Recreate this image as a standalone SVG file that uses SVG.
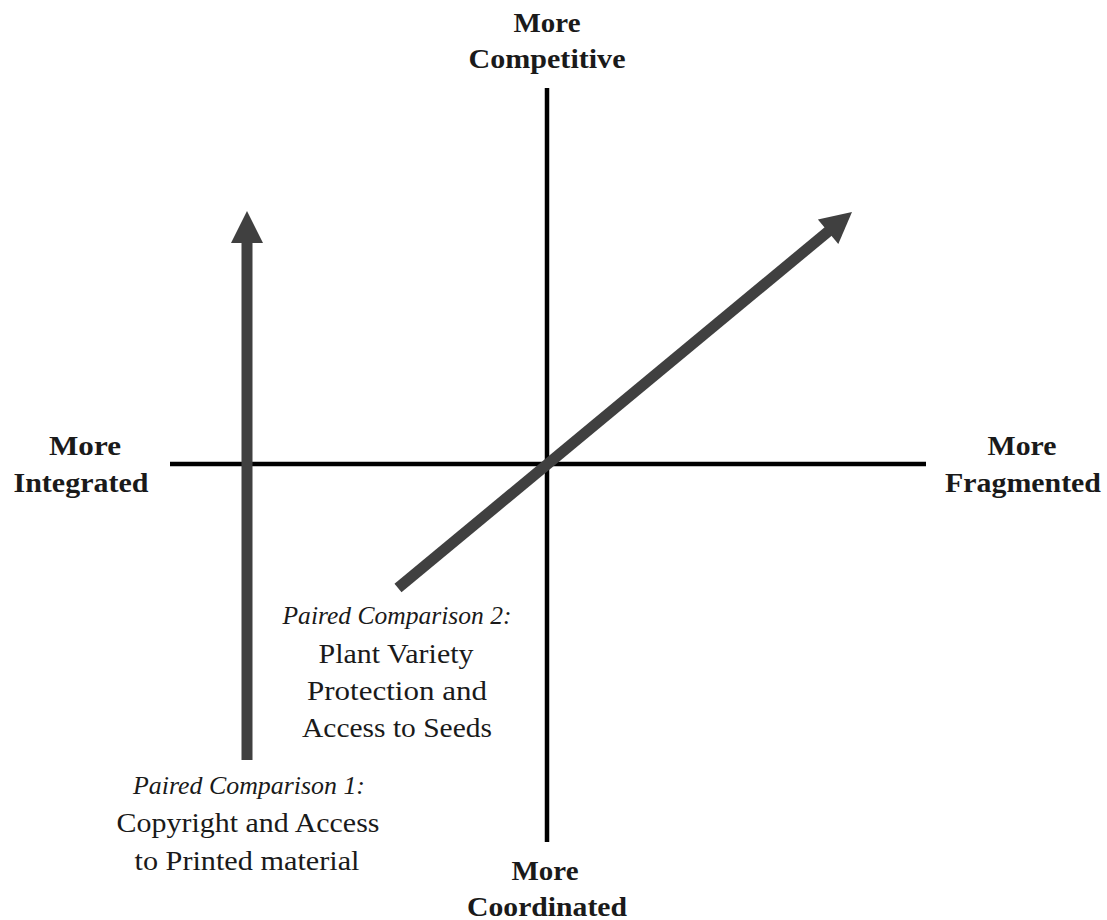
<svg xmlns="http://www.w3.org/2000/svg" width="1107" height="920" viewBox="0 0 1107 920">
<style>
.ax{stroke:#000;stroke-width:4.5;fill:none}
.arr{stroke:#404040;stroke-width:11;fill:none}
.hd{fill:#404040}
.lb{font-family:"Liberation Serif",serif;font-size:27px;font-weight:bold;fill:#1a1a1a;text-anchor:middle}
.it{font-family:"Liberation Serif",serif;font-size:26px;font-style:italic;fill:#1a1a1a;text-anchor:middle}
.tx{font-family:"Liberation Serif",serif;font-size:27px;fill:#1a1a1a;text-anchor:middle}
</style>
<rect width="1107" height="920" fill="#fff"/>
<g id="connectors">
<line class="ax" x1="547" y1="88" x2="547" y2="842"/>
<line class="ax" x1="170" y1="464" x2="926" y2="464"/>
<line class="arr" x1="247" y1="760" x2="247" y2="240"/>
<polygon class="hd" points="247,211 263,243 231,243"/>
<line class="arr" x1="398" y1="588" x2="830" y2="230"/>
<polygon class="hd" points="852,212 838.3,244.1 817.9,219.5"/>
</g>
<g id="competitive"><text class="lb" x="547" y="32" textLength="67" lengthAdjust="spacingAndGlyphs">More</text><text class="lb" x="547" y="68" textLength="157" lengthAdjust="spacingAndGlyphs">Competitive</text></g>
<g id="integrated"><text class="lb" x="85" y="455" textLength="72" lengthAdjust="spacingAndGlyphs">More</text><text class="lb" x="81" y="492" textLength="135" lengthAdjust="spacingAndGlyphs">Integrated</text></g>
<g id="fragmented"><text class="lb" x="1022" y="455" textLength="69" lengthAdjust="spacingAndGlyphs">More</text><text class="lb" x="1023" y="492" textLength="156" lengthAdjust="spacingAndGlyphs">Fragmented</text></g>
<g id="coordinated"><text class="lb" x="545" y="880" textLength="67" lengthAdjust="spacingAndGlyphs">More</text><text class="lb" x="547" y="916" textLength="160" lengthAdjust="spacingAndGlyphs">Coordinated</text></g>
<g id="pc2"><text class="it" x="397" y="624" textLength="229" lengthAdjust="spacingAndGlyphs">Paired Comparison 2:</text><text class="tx" x="396" y="663" textLength="155" lengthAdjust="spacingAndGlyphs">Plant Variety</text><text class="tx" x="397" y="700" textLength="180" lengthAdjust="spacingAndGlyphs">Protection and</text><text class="tx" x="397" y="737" textLength="190" lengthAdjust="spacingAndGlyphs">Access to Seeds</text></g>
<g id="pc1"><text class="it" x="249" y="794" textLength="232" lengthAdjust="spacingAndGlyphs">Paired Comparison 1:</text><text class="tx" x="248" y="832" textLength="263" lengthAdjust="spacingAndGlyphs">Copyright and Access</text><text class="tx" x="247" y="870" textLength="225" lengthAdjust="spacingAndGlyphs">to Printed material</text></g>
</svg>
